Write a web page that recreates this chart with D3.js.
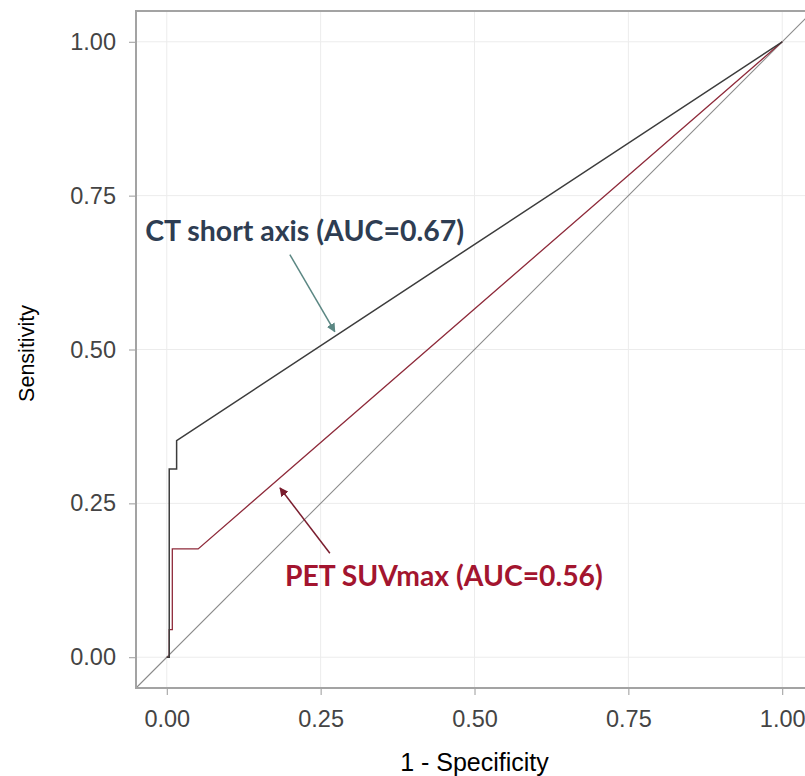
<!DOCTYPE html>
<html>
<head>
<meta charset="utf-8">
<script src="https://cdn.jsdelivr.net/npm/d3@7"></script>
<style>
    body { margin: 0; background: #fff; }
    svg { display: block; }
</style>
</head>
<body>
<svg id="roc-chart" width="805" height="776"></svg>
<script>
// tick values shared by both axes
const tickValues = [0, 0.25, 0.5, 0.75, 1];

// CT short axis ROC curve
const ctFpr = [0, 0.004, 0.004, 0.016, 0.016, 1];
const ctTpr = [0, 0, 0.306, 0.306, 0.352, 1];

// PET SUVmax ROC curve
const petFpr = [0, 0.004, 0.004, 0.009, 0.009, 0.051, 1];
const petTpr = [0, 0, 0.045, 0.045, 0.176, 0.176, 1];

// annotation labels and arrows (data units)
const labels = [
    { text: "CT short axis (AUC=0.67)", x: -0.035, y: 0.676, width: 319, color: "#2e3d52" },
    { text: "PET SUVmax (AUC=0.56)", x: 0.192, y: 0.115, width: 318, color: "#a3152f" }
];
const arrows = [
    { x1: 0.200, y1: 0.654, x2: 0.273, y2: 0.529, color: "#5b8783" },
    { x1: 0.265, y1: 0.169, x2: 0.184, y2: 0.275, color: "#7a1d2e" }
];

const svg = d3.select("#roc-chart");

const x = d3.scaleLinear().domain([-0.05, 1.05]).range([136, 813]);
const y = d3.scaleLinear().domain([-0.05, 1.05]).range([688, 11]);

// grid
svg.append("g")
    .selectAll("line")
    .data(tickValues)
    .join("line")
    .attr("x1", d => x(d)).attr("x2", d => x(d))
    .attr("y1", y(-0.05)).attr("y2", y(1.05))
    .style("stroke", "#ececec").style("stroke-width", 1);
svg.append("g")
    .selectAll("line")
    .data(tickValues)
    .join("line")
    .attr("y1", d => y(d)).attr("y2", d => y(d))
    .attr("x1", x(-0.05)).attr("x2", x(1.05))
    .style("stroke", "#ececec").style("stroke-width", 1);

// axes
const xAxis = svg.append("g")
    .attr("transform", `translate(0, ${y(-0.05)})`)
    .call(d3.axisBottom(x).tickValues(tickValues).tickFormat(d3.format(".2f")).tickSize(7).tickPadding(15));
const yAxis = svg.append("g")
    .attr("transform", `translate(${x(-0.05)}, 0)`)
    .call(d3.axisLeft(y).tickValues(tickValues).tickFormat(d3.format(".2f")).tickSize(7).tickPadding(13));

[xAxis, yAxis].forEach(function (g) {
    g.select(".domain").remove();
    g.selectAll(".tick line").style("stroke", "#9a9a9a");
    g.selectAll(".tick text")
        .style("font-family", "'Liberation Sans', Arial, sans-serif")
        .style("font-size", "23.5px")
        .style("fill", "#444");
});

// diagonal reference line
svg.append("line")
    .attr("x1", x(-0.05)).attr("y1", y(-0.05))
    .attr("x2", x(1.05)).attr("y2", y(1.05))
    .style("stroke", "#8a8a8a").style("stroke-width", 1.1);

// ROC curves
const line = d3.line().x(d => x(d[0])).y(d => y(d[1]));
svg.append("path")
    .datum(petFpr.map((f, i) => [f, petTpr[i]]))
    .attr("d", line)
    .style("fill", "none").style("stroke", "#8e2a3a").style("stroke-width", 1.3);
svg.append("path")
    .datum(ctFpr.map((f, i) => [f, ctTpr[i]]))
    .attr("d", line)
    .style("fill", "none").style("stroke", "#3c3c3c").style("stroke-width", 1.5);

// panel border
svg.append("rect")
    .attr("x", x(-0.05)).attr("y", y(1.05))
    .attr("width", x(1.05) - x(-0.05)).attr("height", y(-0.05) - y(1.05))
    .style("fill", "none").style("stroke", "#a3a3a3").style("stroke-width", 2);

// axis titles
svg.append("text")
    .attr("x", (x(-0.05) + x(1.05)) / 2).attr("y", 771)
    .attr("text-anchor", "middle")
    .style("font-family", "'Liberation Sans', Arial, sans-serif")
    .style("font-size", "25px")
    .text("1 - Specificity");
svg.append("text")
    .attr("transform", `translate(34, ${(y(-0.05) + y(1.05)) / 2 + 4}) rotate(-90)`)
    .attr("text-anchor", "middle")
    .style("font-family", "'Liberation Sans', Arial, sans-serif")
    .style("font-size", "21.5px")
    .text("Sensitivity");

// arrows
const defs = svg.append("defs");
arrows.forEach(function (a, i) {
    defs.append("marker")
        .attr("id", `head-${i}`)
        .attr("viewBox", "0 0 10 10")
        .attr("refX", 9).attr("refY", 5)
        .attr("markerWidth", 9).attr("markerHeight", 9)
        .attr("markerUnits", "userSpaceOnUse")
        .attr("orient", "auto")
        .append("path")
        .attr("d", "M0,0 L10,5 L0,10 Z")
        .style("fill", a.color);
    svg.append("line")
        .attr("x1", x(a.x1)).attr("y1", y(a.y1))
        .attr("x2", x(a.x2)).attr("y2", y(a.y2))
        .attr("marker-end", `url(#head-${i})`)
        .style("stroke", a.color).style("stroke-width", 1.5);
});

// annotation labels, sized to the measured width
labels.forEach(function (l) {
    const t = svg.append("text")
        .attr("x", x(l.x)).attr("y", y(l.y))
        .style("font-family", "Lato, 'Open Sans', sans-serif")
        .style("font-weight", "bold")
        .style("font-size", "24px")
        .style("fill", l.color)
        .text(l.text);
    const w = t.node().getComputedTextLength();
    t.style("font-size", `${24 * l.width / w}px`);
});
</script>
</body>
</html>
